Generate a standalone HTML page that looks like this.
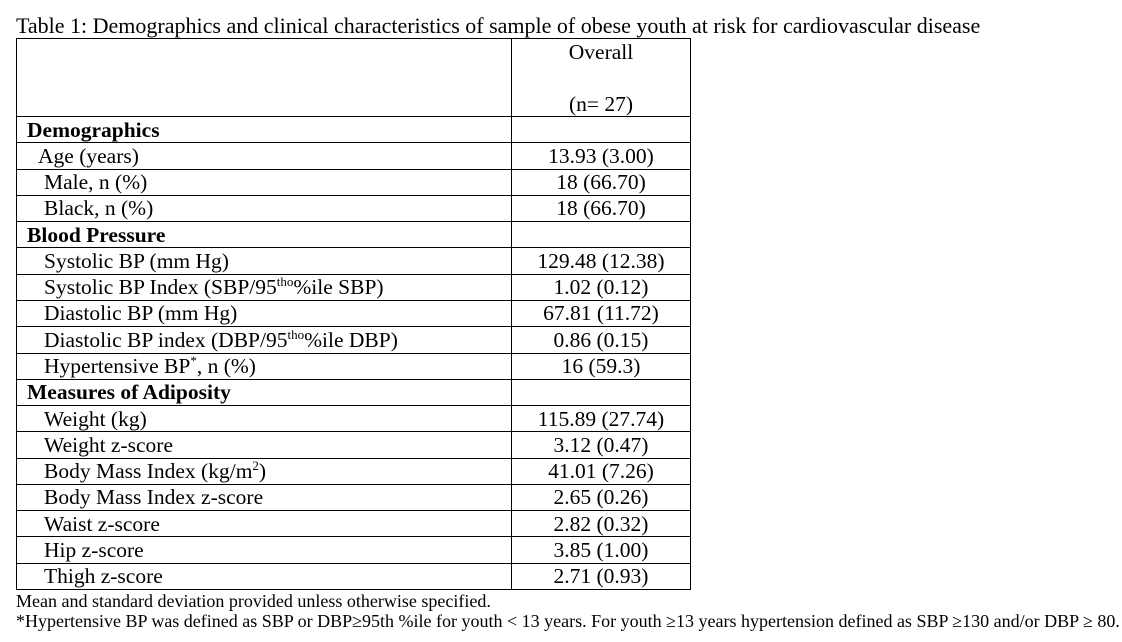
<!DOCTYPE html>
<html><head><meta charset="utf-8">
<style>
html,body{margin:0;padding:0;background:#fff;}
body{width:1122px;height:642px;position:relative;overflow:hidden;font-family:"Liberation Serif",serif;color:#000;}
.t{position:absolute;white-space:nowrap;font-size:21.5px;line-height:26px;}
.hl{position:absolute;height:1px;background:#000;left:16px;width:675px;}
.vl{position:absolute;width:1px;background:#000;}
sup{font-size:13px;line-height:0;}
.f{position:absolute;white-space:nowrap;font-size:18px;line-height:20px;left:16px;}
</style></head>
<body>
<div class="t" style="left:16px;top:13px;font-size:22px;">Table 1: Demographics and clinical characteristics of sample of obese youth at risk for cardiovascular disease</div>
<div class="t" style="left:511px;width:180px;text-align:center;top:39px;">Overall</div>
<div class="t" style="left:511px;width:180px;text-align:center;top:91px;">(n= 27)</div>
<div class="hl" style="top:38px;"></div>
<div class="vl" style="left:16px;top:38px;height:552px;"></div>
<div class="vl" style="left:511px;top:38px;height:552px;"></div>
<div class="vl" style="left:690px;top:38px;height:552px;"></div>
<div id="rows"></div>
<div class="f" style="top:591px;">Mean and standard deviation provided unless otherwise specified.</div>
<div class="f" style="top:611px;">*Hypertensive BP was defined as SBP or DBP≥95th %ile for youth &lt; 13 years. For youth ≥13 years hypertension defined as SBP ≥130 and/or DBP ≥ 80.</div>
<script>
const labels=["<b>Demographics</b>","Age (years)","Male, n (%)","Black, n (%)","<b>Blood Pressure</b>","Systolic BP (mm Hg)","Systolic BP Index (SBP/95<sup>tho</sup>%ile SBP)","Diastolic BP (mm Hg)","Diastolic BP index (DBP/95<sup>tho</sup>%ile DBP)","Hypertensive BP<sup>*</sup>, n (%)","<b>Measures of Adiposity</b>","Weight (kg)","Weight z-score","Body Mass Index (kg/m<sup>2</sup>)","Body Mass Index z-score","Waist z-score","Hip z-score","Thigh z-score"];
const values=["","13.93 (3.00)","18 (66.70)","18 (66.70)","","129.48 (12.38)","1.02 (0.12)","67.81 (11.72)","0.86 (0.15)","16 (59.3)","","115.89 (27.74)","3.12 (0.47)","41.01 (7.26)","2.65 (0.26)","2.82 (0.32)","3.85 (1.00)","2.71 (0.93)"];
const indents=[27,38,44,44,27,44,44,44,44,44,27,44,44,44,44,44,44,44];
const root=document.getElementById('rows');
const top0=116,rh=26.28;
for(let i=0;i<labels.length;i++){
  const y=top0+i*rh;
  const line=document.createElement('div');
  line.className='hl';line.style.top=Math.round(y)+'px';
  
  
  root.appendChild(line);
  const l=document.createElement('div');
  l.className='t';l.style.left=indents[i]+'px';l.style.top=Math.round(y+0.5)+'px';
  l.innerHTML=labels[i];
  
  
  root.appendChild(l);
  const v=document.createElement('div');
  v.className='t';v.style.left='511px';v.style.width='180px';v.style.textAlign='center';v.style.top=Math.round(y+0.5)+'px';
  v.textContent=values[i];
  
  
  root.appendChild(v);
}
const bl=document.createElement('div');
bl.className='hl';bl.style.top=Math.round(top0+labels.length*rh)+'px';


root.appendChild(bl);
</script>
</body></html>
